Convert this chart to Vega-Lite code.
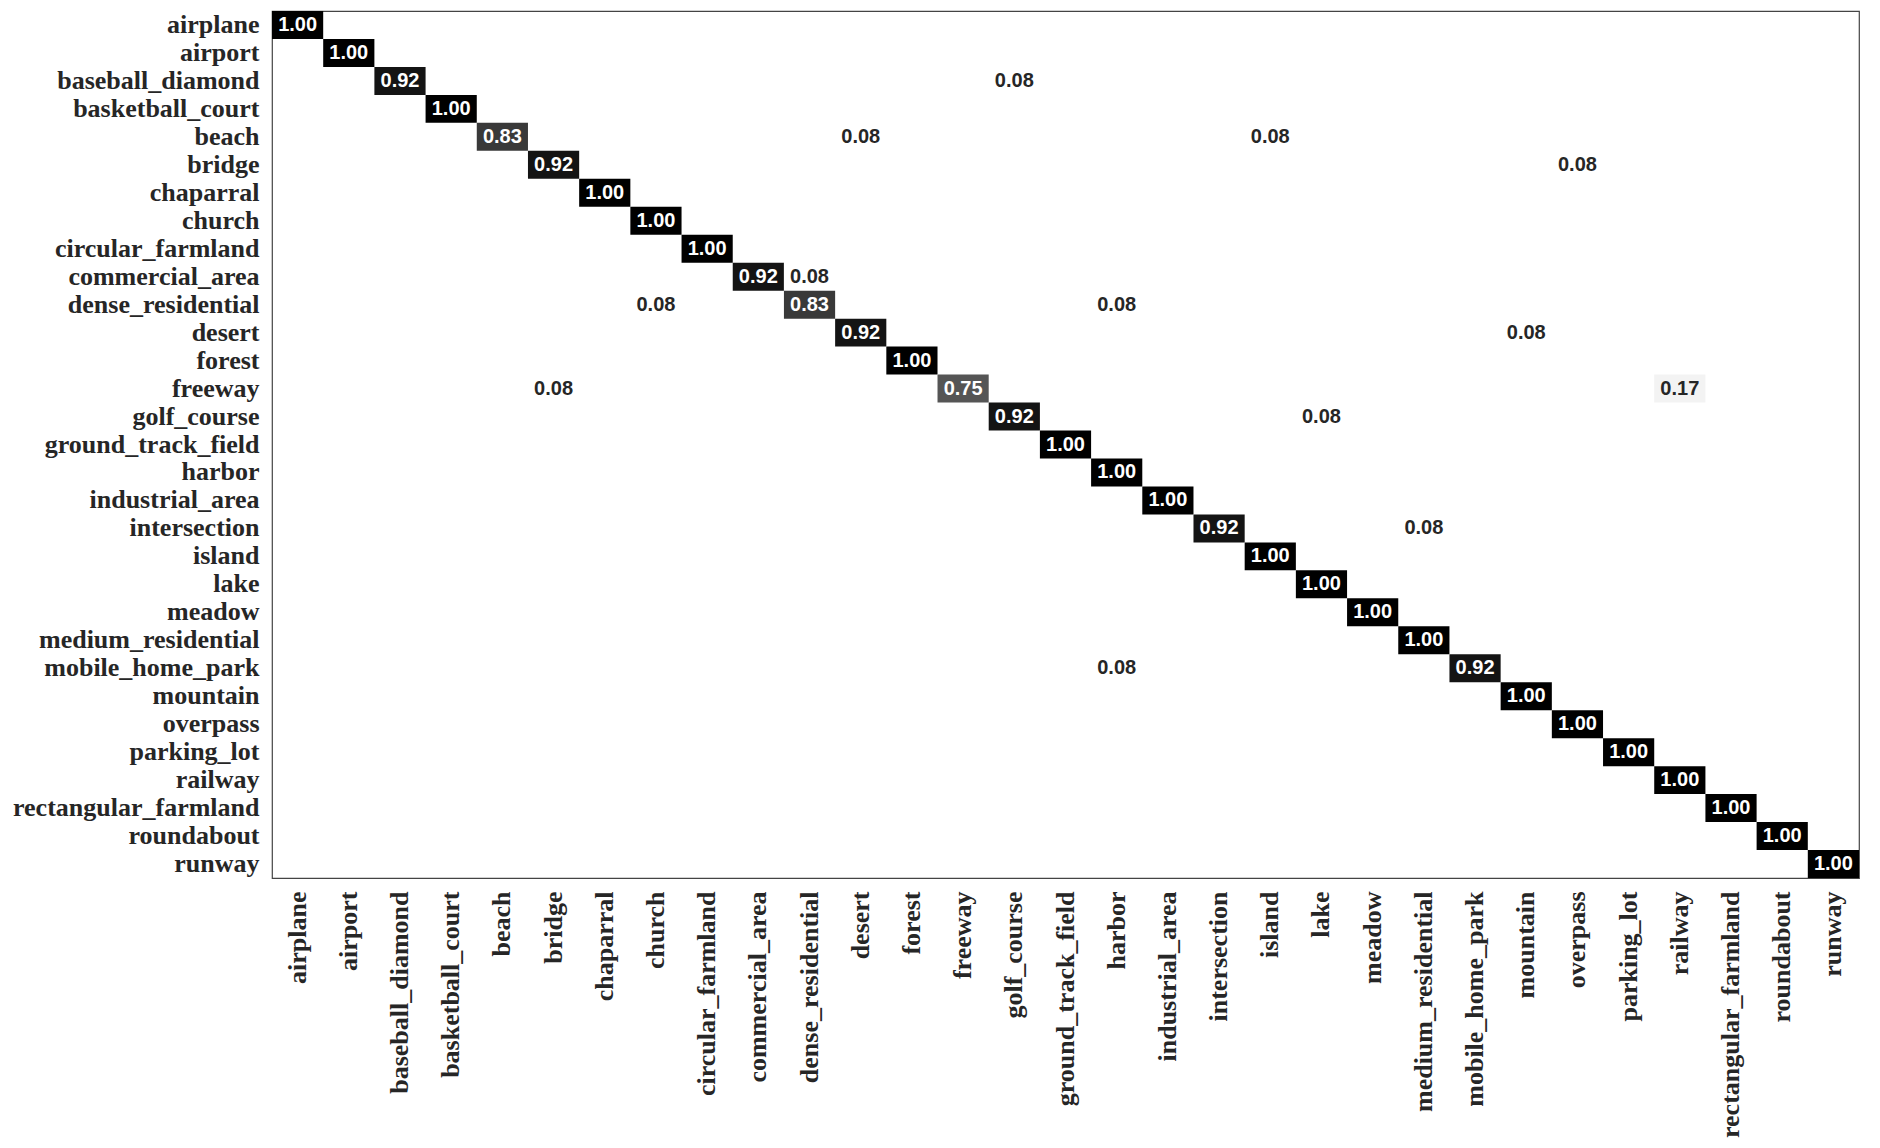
{
  "$schema": "https://vega.github.io/schema/vega-lite/v6.json",
  "width": 1587,
  "height": 867,
  "autosize": {"type": "none"},
  "padding": {"left": 272, "top": 11, "right": 21, "bottom": 270},
  "background": "white",
  "config": {
    "view": {"stroke": "#444444", "strokeWidth": 1.2},
    "axis": {
      "labelFont": "Liberation Serif",
      "labelFontWeight": "bold",
      "labelFontSize": 26,
      "labelColor": "#262626",
      "ticks": false,
      "domain": false,
      "grid": false,
      "title": null,
      "labelPadding": 13,
      "labelOverlap": false,
      "labelLimit": 0
    }
  },
  "data": {
    "values": [
      {"actual": "airplane", "predicted": "airplane", "v": 1.00},
      {"actual": "airport", "predicted": "airport", "v": 1.00},
      {"actual": "baseball_diamond", "predicted": "baseball_diamond", "v": 0.92},
      {"actual": "baseball_diamond", "predicted": "golf_course", "v": 0.08},
      {"actual": "basketball_court", "predicted": "basketball_court", "v": 1.00},
      {"actual": "beach", "predicted": "beach", "v": 0.83},
      {"actual": "beach", "predicted": "desert", "v": 0.08},
      {"actual": "beach", "predicted": "island", "v": 0.08},
      {"actual": "bridge", "predicted": "bridge", "v": 0.92},
      {"actual": "bridge", "predicted": "overpass", "v": 0.08},
      {"actual": "chaparral", "predicted": "chaparral", "v": 1.00},
      {"actual": "church", "predicted": "church", "v": 1.00},
      {"actual": "circular_farmland", "predicted": "circular_farmland", "v": 1.00},
      {"actual": "commercial_area", "predicted": "commercial_area", "v": 0.92},
      {"actual": "commercial_area", "predicted": "dense_residential", "v": 0.08},
      {"actual": "dense_residential", "predicted": "church", "v": 0.08},
      {"actual": "dense_residential", "predicted": "dense_residential", "v": 0.83},
      {"actual": "dense_residential", "predicted": "harbor", "v": 0.08},
      {"actual": "desert", "predicted": "desert", "v": 0.92},
      {"actual": "desert", "predicted": "mountain", "v": 0.08},
      {"actual": "forest", "predicted": "forest", "v": 1.00},
      {"actual": "freeway", "predicted": "bridge", "v": 0.08},
      {"actual": "freeway", "predicted": "freeway", "v": 0.75},
      {"actual": "freeway", "predicted": "railway", "v": 0.17},
      {"actual": "golf_course", "predicted": "golf_course", "v": 0.92},
      {"actual": "golf_course", "predicted": "lake", "v": 0.08},
      {"actual": "ground_track_field", "predicted": "ground_track_field", "v": 1.00},
      {"actual": "harbor", "predicted": "harbor", "v": 1.00},
      {"actual": "industrial_area", "predicted": "industrial_area", "v": 1.00},
      {"actual": "intersection", "predicted": "intersection", "v": 0.92},
      {"actual": "intersection", "predicted": "medium_residential", "v": 0.08},
      {"actual": "island", "predicted": "island", "v": 1.00},
      {"actual": "lake", "predicted": "lake", "v": 1.00},
      {"actual": "meadow", "predicted": "meadow", "v": 1.00},
      {"actual": "medium_residential", "predicted": "medium_residential", "v": 1.00},
      {"actual": "mobile_home_park", "predicted": "harbor", "v": 0.08},
      {"actual": "mobile_home_park", "predicted": "mobile_home_park", "v": 0.92},
      {"actual": "mountain", "predicted": "mountain", "v": 1.00},
      {"actual": "overpass", "predicted": "overpass", "v": 1.00},
      {"actual": "parking_lot", "predicted": "parking_lot", "v": 1.00},
      {"actual": "railway", "predicted": "railway", "v": 1.00},
      {"actual": "rectangular_farmland", "predicted": "rectangular_farmland", "v": 1.00},
      {"actual": "roundabout", "predicted": "roundabout", "v": 1.00},
      {"actual": "runway", "predicted": "runway", "v": 1.00}
    ]
  },
  "encoding": {
    "x": {
      "field": "predicted",
      "type": "nominal",
      "scale": {
        "domain": ["airplane","airport","baseball_diamond","basketball_court","beach","bridge","chaparral","church","circular_farmland","commercial_area","dense_residential","desert","forest","freeway","golf_course","ground_track_field","harbor","industrial_area","intersection","island","lake","meadow","medium_residential","mobile_home_park","mountain","overpass","parking_lot","railway","rectangular_farmland","roundabout","runway"],
        "paddingInner": 0,
        "paddingOuter": 0
      },
      "axis": {"labelAngle": -90, "orient": "bottom"}
    },
    "y": {
      "field": "actual",
      "type": "nominal",
      "scale": {
        "domain": ["airplane","airport","baseball_diamond","basketball_court","beach","bridge","chaparral","church","circular_farmland","commercial_area","dense_residential","desert","forest","freeway","golf_course","ground_track_field","harbor","industrial_area","intersection","island","lake","meadow","medium_residential","mobile_home_park","mountain","overpass","parking_lot","railway","rectangular_farmland","roundabout","runway"],
        "paddingInner": 0,
        "paddingOuter": 0
      },
      "axis": {"orient": "left"}
    }
  },
  "layer": [
    {
      "mark": {"type": "rect"},
      "encoding": {
        "fill": {
          "field": "v",
          "type": "quantitative",
          "scale": {
            "domain": [0.08, 0.17, 0.75, 0.83, 0.92, 1.0],
            "range": ["#ffffff", "#f3f3f3", "#555555", "#393939", "#141414", "#000000"]
          },
          "legend": null
        }
      }
    },
    {
      "mark": {"type": "text", "font": "Liberation Sans", "fontWeight": "bold", "fontSize": 20, "baseline": "middle", "align": "center"},
      "encoding": {
        "text": {"field": "v", "type": "quantitative", "format": ".2f"},
        "color": {
          "condition": {"test": "datum.v > 0.5", "value": "#ffffff"},
          "value": "#262626"
        }
      }
    }
  ]
}
